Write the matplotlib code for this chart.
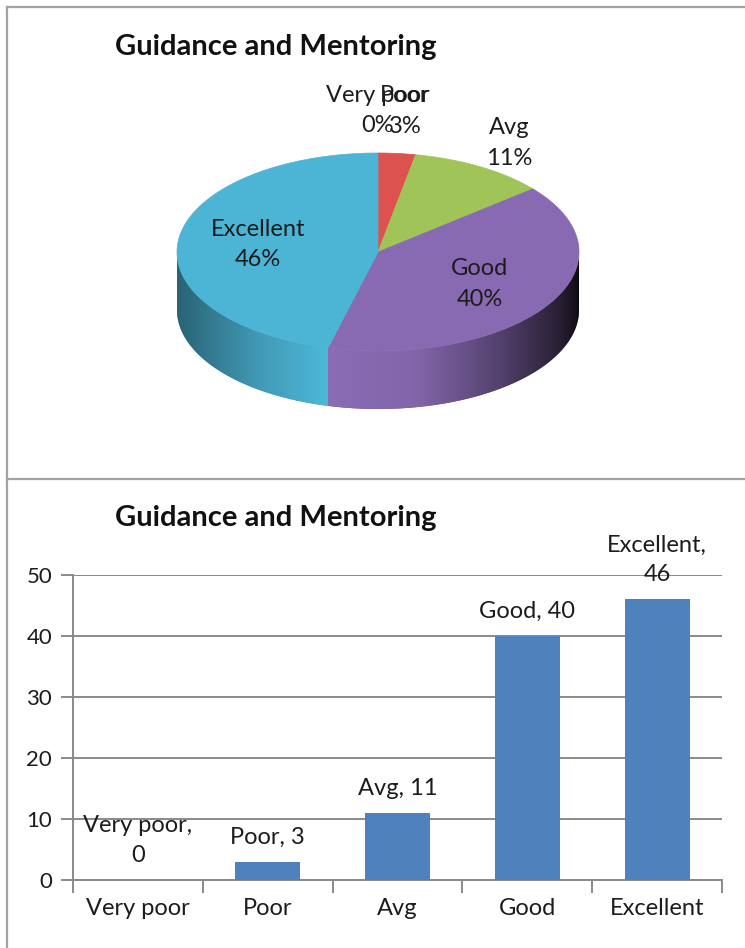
import numpy as np
import matplotlib
matplotlib.use("Agg")
import matplotlib.pyplot as plt
from matplotlib.patches import Polygon
from matplotlib.lines import Line2D

plt.rcParams['font.family'] = ['Lato', 'DejaVu Sans']

title = "Guidance and Mentoring"
categories = ["Very poor", "Poor", "Avg", "Good", "Excellent"]
counts = [0, 3, 11, 40, 46]
pie_colors = ["#4F81BD", "#DC524E", "#A0C458", "#886AB2", "#4CB4D5"]
bar_color = "#4F81BD"
yticks = [0, 10, 20, 30, 40, 50]

W, H = 745, 948
fig = plt.figure(figsize=(W / 100, H / 100), dpi=100)
fig.patch.set_facecolor("white")

# panel borders (pixel coords)
def px(x, y):
    return x / W, 1 - y / H

border = "#a3a3a3"
for (x0, y0), (x1, y1) in [((7, 7), (745, 7)), ((7, 7), (7, 948)), ((7, 479), (745, 479))]:
    a, b = px(x0, y0), px(x1, y1)
    fig.add_artist(Line2D([a[0], b[0]], [a[1], b[1]], color=border, lw=1.6))

# ---------- pie (pseudo 3D) ----------
axp = fig.add_axes([0, 1 - 479 / H, 1, 479 / H])
axp.set_xlim(0, W)
axp.set_ylim(479, 0)
axp.axis("off")

cx, cy, ra, rb, depth = 378, 252, 201, 99, 58
total = sum(counts)
shares = [c / total for c in counts]
edges = np.concatenate([[0], np.cumsum(shares)]) * 2 * np.pi


def pt(t, r=1.0):
    return cx + ra * r * np.sin(t), cy - rb * r * np.cos(t)


def shade_factor(s):
    return np.interp(s, [-1, -0.6, -0.25, 0.2, 0.6, 0.9, 1],
                     [0.55, 0.85, 1.02, 0.95, 0.62, 0.3, 0.12])


# side walls, front half only, smooth gradient clipped to each wall
cols = np.linspace(-1, 1, 600)
for i, c in enumerate(pie_colors):
    t0, t1 = max(edges[i], np.pi / 2), min(edges[i + 1], 3 * np.pi / 2)
    if t1 <= t0:
        continue
    rgb = np.array(matplotlib.colors.to_rgb(c))
    ts = np.linspace(t0, t1, 200)
    top = [pt(t) for t in ts]
    bot = [(xx, yy + depth) for xx, yy in top[::-1]]
    wall = Polygon(top + bot, closed=True, fc=rgb * 0.8, ec="none")
    axp.add_patch(wall)
    img = np.clip(shade_factor(cols)[None, :, None] * rgb[None, None, :], 0, 1)
    im = axp.imshow(img, extent=(cx - ra, cx + ra, cy + rb + depth + 2, cy - 2),
                    aspect="auto", interpolation="bilinear", zorder=1)
    im.set_clip_path(wall)

axp.set_xlim(0, W)
axp.set_ylim(479, 0)

# top face
for i, c in enumerate(pie_colors):
    if counts[i] == 0:
        continue
    ts = np.linspace(edges[i], edges[i + 1], 200)
    verts = [(cx, cy)] + [pt(t) for t in ts]
    axp.add_patch(Polygon(verts, closed=True, fc=c, ec=c, lw=0.5, zorder=2))

# labels
for i, name in enumerate(categories):
    mid = (edges[i] + edges[i + 1]) / 2
    if shares[i] >= 0.2:
        r = 0.6
    elif shares[i] >= 0.05:
        r = 1.28
    else:
        r = 1.43
    lx, ly = pt(mid, r)
    axp.text(lx, ly, f"{name}\n{round(shares[i] * 100)}%", ha="center", va="center",
             fontsize=17, color="#1c1c1c", linespacing=1.55, zorder=3)

axp.text(115, 47, title, fontsize=21, fontweight="bold", ha="left", va="center", color="#111111")

# ---------- bar chart ----------
axb = fig.add_axes([73 / W, 1 - 880 / H, (722 - 73) / W, (880 - 575) / H])
x = np.arange(len(categories))
axb.bar(x, counts, width=0.5, color=bar_color, zorder=3)
axb.set_xlim(-0.5, len(categories) - 0.5)
axb.set_ylim(0, 50)
axb.set_yticks(yticks)
axb.yaxis.grid(True, color="#8a8a8a", lw=1.4)
axb.set_axisbelow(True)
for s in ["top", "right"]:
    axb.spines[s].set_visible(False)
for s in ["left", "bottom"]:
    axb.spines[s].set_color("#8a8a8a")
    axb.spines[s].set_linewidth(1.4)
axb.set_xticks(np.arange(len(categories) + 1) - 0.5)
axb.set_xticklabels([])
axb.set_xticks(x, minor=True)
axb.set_xticklabels(categories, minor=True)
axb.tick_params(axis="x", which="minor", length=0, pad=13, labelsize=17)
axb.tick_params(axis="x", which="major", length=9, color="#8a8a8a", width=1.4)
axb.tick_params(axis="y", length=9, color="#8a8a8a", width=1.4, labelsize=16, pad=6)
for lbl in axb.get_yticklabels() + axb.get_xticklabels(minor=True):
    lbl.set_color("#1c1c1c")

for xi, v, name in zip(x, counts, categories):
    txt = f"{name},\n{v}" if len(name) > 5 else f"{name}, {v}"
    axb.annotate(txt, (xi, v), xytext=(0, 14), textcoords="offset pixels",
                 ha="center", va="bottom", fontsize=17, color="#1c1c1c", linespacing=1.5)

fig.text(115 / W, 1 - 518 / H, title, fontsize=21, fontweight="bold",
         ha="left", va="center", color="#111111")

fig.savefig("out.png", dpi=100, facecolor="white")
